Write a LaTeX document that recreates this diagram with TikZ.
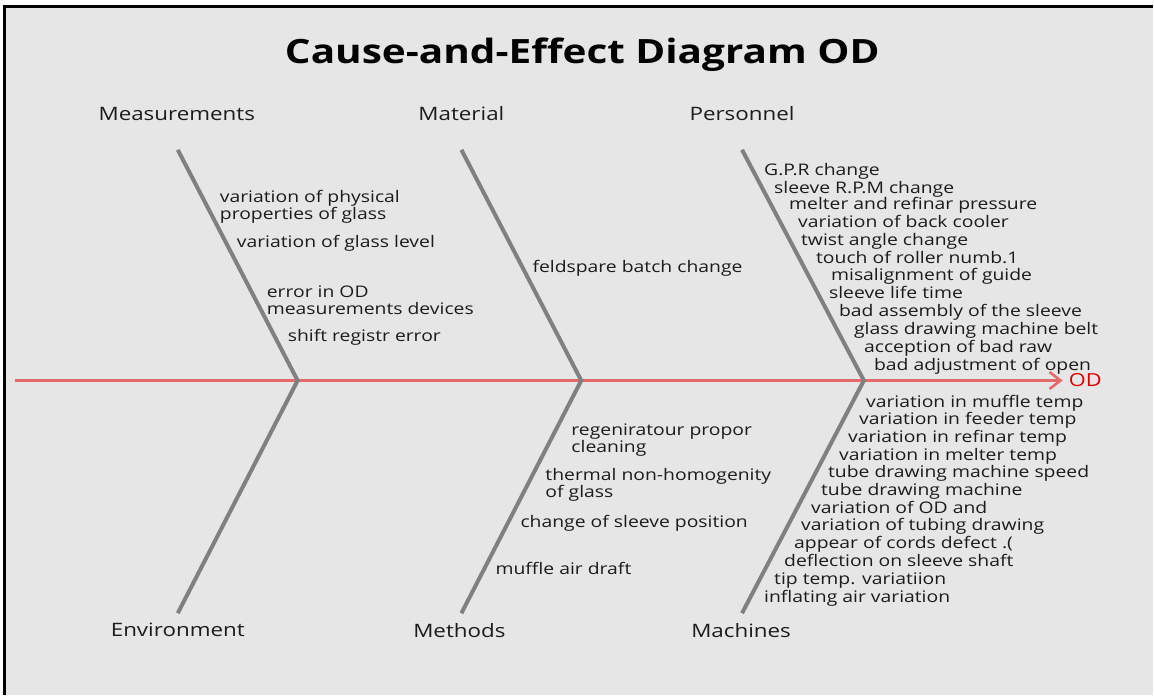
\documentclass[tikz,border=0pt]{standalone}
\usepackage{fontspec}
\setmainfont{Open Sans}[FakeStretch=1.21]
\usetikzlibrary{arrows.meta}
\definecolor{bgray}{HTML}{E6E6E6}
\definecolor{bonegray}{HTML}{808080}
\definecolor{spinered}{HTML}{E26A6A}
\definecolor{odred}{HTML}{DD0000}
\definecolor{txt}{HTML}{1C1C1C}
\begin{document}
\begin{tikzpicture}[x=1pt,y=-1pt,
  cause/.style={anchor=west,inner sep=0pt,text=txt,yshift=-2.5pt,
    font=\fontsize{16}{17}\selectfont,text height=11.6pt,text depth=3.4pt},
  causetwo/.style={anchor=west,inner sep=0pt,text=txt,align=left,yshift=-2.5pt,
    font=\fontsize{16}{17}\selectfont},
  catlabel/.style={inner sep=0pt,text=txt,font=\fontsize{18.5}{20}\selectfont},
  bone/.style={draw=bonegray,line width=4pt},
  spine/.style={draw=spinered,line width=3.2pt},
]
% page and frame
\fill[white] (0,0) rectangle (1154,696);
\fill[bgray] (5,7) rectangle (1154,696);
\draw[black,line width=3pt] (5,696) -- (5,7) -- (1154,7);
\useasboundingbox (0,0) rectangle (1154,696);

% title
\node[inner sep=0pt,text=black,font=\bfseries\fontsize{33.5}{36}\selectfont] (title) at (583,55) {Cause-and-Effect Diagram OD};

% spine
\coordinate (tail) at (15,381);
\node[inner sep=0pt,anchor=west,text=odred,font=\fontsize{18}{20}\selectfont,text height=13pt,text depth=0pt] (od) at (1070,381) {OD};
\coordinate (head) at (1064,381);
\draw[spine,-{Straight Barb[length=11pt,width=17pt,line width=2.6pt]}] (tail) -- (head);

% junctions on the spine
\coordinate (j1) at (298,381);
\coordinate (j2) at (582,381);
\coordinate (j3) at (865,381);

% bone ends
\coordinate (t1) at (178,150);
\coordinate (t2) at (462,150);
\coordinate (t3) at (743,150);
\coordinate (b1) at (178,614);
\coordinate (b2) at (462,614);
\coordinate (b3) at (743,614);

\draw[bone] (t1) -- (j1) -- (b1);
\draw[bone] (t2) -- (j2) -- (b2);
\draw[bone] (t3) -- (j3) -- (b3);

% category labels
\node[catlabel] (meas) at (177,114) {Measurements};
\node[catlabel] (mat)  at (462,114) {Material};
\node[catlabel] (pers) at (743,114) {Personnel};
\node[catlabel] (env)  at (178,631) {Environment};
\node[catlabel] (meth) at (460,631) {Methods};
\node[catlabel] (mach) at (742,631) {Machines};

% Measurements causes
\node[causetwo] (m1) at (220,205) {variation of physical\\properties of glass};
\node[cause] (m2) at (237,241) {variation of glass level};
\node[causetwo] (m3) at (267,298) {error in OD\\measurements devices};
\node[cause] (m4) at (288,335) {shift registr error};

% Material causes
\node[cause] (a1) at (533,266) {feldspare batch change};

% Personnel causes
\node[cause] (p1)  at (765,169) {G.P.R change};
\node[cause] (p2)  at (775,187) {sleeve R.P.M change};
\node[cause] (p3)  at (790,203) {melter and refinar pressure};
\node[cause] (p4)  at (799,221) {variation of back cooler};
\node[cause] (p5)  at (802,239) {twist angle change};
\node[cause] (p6)  at (817,257) {touch of roller numb.1};
\node[cause] (p7)  at (832,274) {misalignment of guide};
\node[cause] (p8)  at (830,292) {sleeve life time};
\node[cause] (p9)  at (840,310) {bad assembly of the sleeve};
\node[cause] (p10) at (855,328) {glass drawing machine belt};
\node[cause] (p11) at (865,346) {acception of bad raw};
\node[cause] (p12) at (875,364) {bad adjustment of open};

% Methods causes
\node[causetwo] (e1) at (572,438) {regeniratour propor\\cleaning};
\node[causetwo] (e2) at (546,483) {thermal non-homogenity\\of glass};
\node[cause] (e3) at (521,522) {change of sleeve position};
\node[cause] (e4) at (496,569) {muffle air draft};

% Machines causes
\node[cause] (c1)  at (867,401) {variation in muffle temp};
\node[cause] (c2)  at (860,418) {variation in feeder temp};
\node[cause] (c3)  at (849,436) {variation in refinar temp};
\node[cause] (c4)  at (840,454) {variation in melter temp};
\node[cause] (c5)  at (829,472) {tube drawing machine speed};
\node[cause] (c6)  at (822,490) {tube drawing machine};
\node[cause] (c7)  at (812,508) {variation of OD and};
\node[cause] (c8)  at (802,525) {variation of tubing drawing};
\node[cause] (c9)  at (795,543) {appear of cords defect .(};
\node[cause] (c10) at (785,561) {deflection on sleeve shaft};
\node[cause] (c11) at (775,579) {tip temp. variatiion};
\node[cause] (c12) at (765,597) {inflating air variation};
\end{tikzpicture}
\end{document}
